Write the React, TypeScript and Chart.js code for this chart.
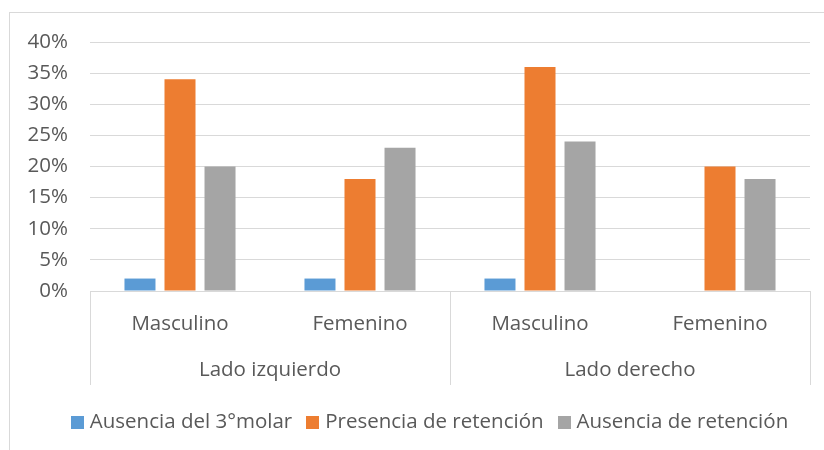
import React, { useEffect, useRef } from "react";
import { Chart, registerables } from "chart.js";

Chart.register(...registerables);

const subCategories = ["Masculino", "Femenino", "Masculino", "Femenino"];
const groupLabels = ["Lado izquierdo", "Lado derecho"];
const seriesNames = ["Ausencia del 3°molar", "Presencia de retención", "Ausencia de retención"];
const ausenciaMolar = [2, 2, 2, 0];
const presenciaRetencion = [34, 18, 36, 20];
const ausenciaRetencion = [20, 23, 24, 18];
const seriesColors = ["#5B9BD5", "#ED7D31", "#A5A5A5"];
const yTicks = [0, 5, 10, 15, 20, 25, 30, 35, 40];

const FONT = "'Open Sans', sans-serif";
const TEXT = "#595959";
const LINE = "#d9d9d9";

const framePlugin = {
  id: "frame",
  beforeDraw(chart: any) {
    const ctx = chart.ctx;
    ctx.save();
    ctx.strokeStyle = LINE;
    ctx.lineWidth = 1;
    ctx.strokeRect(9.5, 12.5, 1000, 1000);
    ctx.restore();
  },
};

const groupPlugin = {
  id: "groups",
  afterDraw(chart: any) {
    const ctx = chart.ctx;
    const x = chart.scales.x;
    const area = chart.chartArea;
    const n = subCategories.length;
    const half = (x.getPixelForValue(1) - x.getPixelForValue(0)) / 2;
    const bounds = [x.getPixelForValue(0) - half, (x.getPixelForValue(1) + x.getPixelForValue(2)) / 2, x.getPixelForValue(n - 1) + half];
    ctx.save();
    ctx.strokeStyle = LINE;
    ctx.lineWidth = 1;
    bounds.forEach((bx) => {
      const px = Math.round(bx) + 0.5;
      ctx.beginPath();
      ctx.moveTo(px, area.bottom);
      ctx.lineTo(px, area.bottom + 94);
      ctx.stroke();
    });
    ctx.fillStyle = TEXT;
    ctx.font = `20.5px ${FONT}`;
    ctx.textAlign = "center";
    ctx.textBaseline = "middle";
    groupLabels.forEach((g, i) => {
      const cx = (bounds[i] + bounds[i + 1]) / 2;
      ctx.fillText(g, cx, area.bottom + 79);
    });

    // legend
    const ds = chart.data.datasets;
    const box = 13;
    const gapText = 6;
    const gapItem = 14;
    ctx.textAlign = "left";
    const widths = ds.map((d: any) => ctx.measureText(d.label).width);
    const total = widths.reduce((a: number, w: number) => a + box + gapText + w, 0) + gapItem * (ds.length - 1);
    let lx = 429.5 - total / 2;
    const cy = 422;
    ds.forEach((d: any, i: number) => {
      ctx.fillStyle = d.backgroundColor;
      ctx.fillRect(Math.round(lx), Math.round(cy - box / 2), box, box);
      ctx.fillStyle = TEXT;
      ctx.fillText(d.label, lx + box + gapText, cy);
      lx += box + gapText + widths[i] + gapItem;
    });
    ctx.restore();
  },
};

export default function App() {
  const ref = useRef<HTMLCanvasElement>(null);
  useEffect(() => {
    if (!ref.current) return;
    const data = [ausenciaMolar, presenciaRetencion, ausenciaRetencion];
    const chart = new Chart(ref.current, {
      type: "bar",
      data: {
        labels: subCategories,
        datasets: seriesNames.map((name, i) => ({
          label: name,
          data: data[i],
          backgroundColor: seriesColors[i],
          borderWidth: 0,
          categoryPercentage: 0.667,
          barPercentage: 0.775,
        })),
      },
      options: {
        animation: false,
        responsive: false,
        layout: { padding: { left: 0, right: 14, top: 42, bottom: 49 } },
        plugins: {
          tooltip: { enabled: false },
          legend: { display: false },
        },
        scales: {
          x: {
            grid: { display: false },
            border: { display: false },
            ticks: { color: TEXT, font: { family: FONT, size: 20.5 }, padding: 13, maxRotation: 0 },
            afterFit(scale: any) {
              scale.height = 110;
            },
          },
          y: {
            min: 0,
            max: 40,
            afterBuildTicks(scale: any) {
              scale.ticks = yTicks.map((v) => ({ value: v }));
            },
            grid: { color: LINE, drawTicks: false, lineWidth: 1 },
            border: { display: false },
            ticks: {
              color: TEXT,
              font: { family: FONT, size: 20.5 },
              padding: 22,
              callback: (v: any) => `${v}%`,
            },
            afterFit(scale: any) {
              scale.width = 90;
            },
          },
        },
      },
      plugins: [framePlugin, groupPlugin],
    });
    return () => chart.destroy();
  }, []);
  return (
    <div style={{ position: "absolute", left: 0, top: 0, width: 824, height: 450 }}>
      <canvas ref={ref} width={824} height={450} style={{ display: "block" }} />
    </div>
  );
}
